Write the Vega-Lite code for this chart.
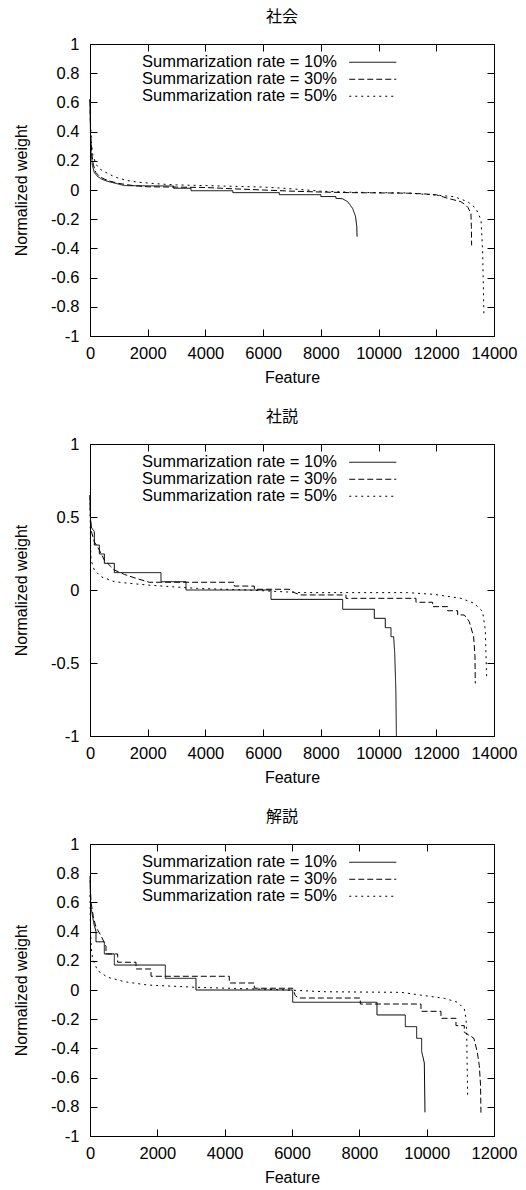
{
  "$schema": "https://vega.github.io/schema/vega-lite/v6.json",
  "background": "white",
  "padding": {"left": 13, "top": 8, "right": 5, "bottom": 0},
  "spacing": 22,
  "config": {
    "font": "Liberation Sans",
    "view": {"stroke": "black", "strokeWidth": 1},
    "axis": {"labelFont": "Liberation Sans", "labelFontSize": 16.5, "labelColor": "black", "titleFont": "Liberation Sans", "titleFontSize": 16, "titleFontWeight": "normal", "titleColor": "black", "domainColor": "black", "tickColor": "black", "grid": false, "tickSize": -7, "labelFlush": false, "labelOverlap": false},
    "title": {"font": "Noto Sans CJK JP", "fontSize": 16, "fontWeight": "normal", "color": "black", "offset": 11, "frame": "group", "anchor": "middle", "dx": -10},
    "legend": {"orient": "none", "legendX": 260, "legendY": 10, "title": null, "labelAlign": "right", "labelOffset": -44, "labelFont": "Liberation Sans", "labelFontSize": 16.5, "labelColor": "black", "symbolType": "M-5.875,0H5.875", "symbolSize": 64, "symbolStrokeColor": "black", "symbolFillColor": "transparent", "symbolStrokeWidth": 1, "symbolOpacity": 1, "rowPadding": 0, "padding": 0, "labelLimit": 400, "symbolOffset": 14.5}
  },
  "datasets": {
    "shakai": [
      {"rate":"10%","x":0,"y":0.62},{"rate":"10%","x":15,"y":0.4},{"rate":"10%","x":40,"y":0.25},{"rate":"10%","x":80,"y":0.17},{"rate":"10%","x":150,"y":0.12},{"rate":"10%","x":250,"y":0.095},{"rate":"10%","x":400,"y":0.075},{"rate":"10%","x":600,"y":0.06},{"rate":"10%","x":800,"y":0.05},{"rate":"10%","x":1000,"y":0.04},{"rate":"10%","x":1200,"y":0.03},{"rate":"10%","x":2900,"y":0.027},{"rate":"10%","x":2900,"y":0.012},{"rate":"10%","x":3500,"y":0.012},{"rate":"10%","x":3500,"y":-0.005},{"rate":"10%","x":4950,"y":-0.005},{"rate":"10%","x":4950,"y":-0.018},{"rate":"10%","x":6560,"y":-0.018},{"rate":"10%","x":6560,"y":-0.032},{"rate":"10%","x":8000,"y":-0.032},{"rate":"10%","x":8000,"y":-0.045},{"rate":"10%","x":8520,"y":-0.045},{"rate":"10%","x":8520,"y":-0.057},{"rate":"10%","x":8750,"y":-0.06},{"rate":"10%","x":8930,"y":-0.08},{"rate":"10%","x":9100,"y":-0.126},{"rate":"10%","x":9200,"y":-0.18},{"rate":"10%","x":9245,"y":-0.25},{"rate":"10%","x":9255,"y":-0.32},
      {"rate":"30%","x":0,"y":0.62},{"rate":"30%","x":20,"y":0.4},{"rate":"30%","x":60,"y":0.25},{"rate":"30%","x":120,"y":0.17},{"rate":"30%","x":200,"y":0.12},{"rate":"30%","x":350,"y":0.09},{"rate":"30%","x":500,"y":0.075},{"rate":"30%","x":700,"y":0.06},{"rate":"30%","x":1000,"y":0.045},{"rate":"30%","x":1500,"y":0.03},{"rate":"30%","x":2000,"y":0.022},{"rate":"30%","x":3000,"y":0.02},{"rate":"30%","x":4000,"y":0.017},{"rate":"30%","x":5000,"y":0.008},{"rate":"30%","x":6000,"y":0.0},{"rate":"30%","x":7000,"y":-0.008},{"rate":"30%","x":8000,"y":-0.014},{"rate":"30%","x":9000,"y":-0.018},{"rate":"30%","x":10000,"y":-0.02},{"rate":"30%","x":11000,"y":-0.022},{"rate":"30%","x":11600,"y":-0.027},{"rate":"30%","x":12000,"y":-0.033},{"rate":"30%","x":12400,"y":-0.057},{"rate":"30%","x":12850,"y":-0.08},{"rate":"30%","x":13000,"y":-0.1},{"rate":"30%","x":13100,"y":-0.12},{"rate":"30%","x":13200,"y":-0.16},{"rate":"30%","x":13215,"y":-0.25},{"rate":"30%","x":13225,"y":-0.38},
      {"rate":"50%","x":0,"y":0.62},{"rate":"50%","x":20,"y":0.45},{"rate":"50%","x":50,"y":0.32},{"rate":"50%","x":100,"y":0.24},{"rate":"50%","x":200,"y":0.18},{"rate":"50%","x":300,"y":0.15},{"rate":"50%","x":450,"y":0.13},{"rate":"50%","x":600,"y":0.115},{"rate":"50%","x":800,"y":0.095},{"rate":"50%","x":1000,"y":0.08},{"rate":"50%","x":1300,"y":0.065},{"rate":"50%","x":1600,"y":0.055},{"rate":"50%","x":2000,"y":0.048},{"rate":"50%","x":2500,"y":0.04},{"rate":"50%","x":3000,"y":0.035},{"rate":"50%","x":4000,"y":0.03},{"rate":"50%","x":5000,"y":0.025},{"rate":"50%","x":6000,"y":0.02},{"rate":"50%","x":6800,"y":0.011},{"rate":"50%","x":7500,"y":0.0},{"rate":"50%","x":8000,"y":-0.008},{"rate":"50%","x":9000,"y":-0.015},{"rate":"50%","x":10000,"y":-0.018},{"rate":"50%","x":11000,"y":-0.02},{"rate":"50%","x":11500,"y":-0.028},{"rate":"50%","x":12000,"y":-0.035},{"rate":"50%","x":12620,"y":-0.046},{"rate":"50%","x":13090,"y":-0.08},{"rate":"50%","x":13375,"y":-0.126},{"rate":"50%","x":13550,"y":-0.205},{"rate":"50%","x":13605,"y":-0.41},{"rate":"50%","x":13650,"y":-0.85}
    ],
    "shasetsu": [
      {"rate":"10%","x":0,"y":0.65},{"rate":"10%","x":15,"y":0.5},{"rate":"10%","x":40,"y":0.43},{"rate":"10%","x":150,"y":0.4},{"rate":"10%","x":150,"y":0.308},{"rate":"10%","x":323,"y":0.308},{"rate":"10%","x":323,"y":0.247},{"rate":"10%","x":497,"y":0.247},{"rate":"10%","x":497,"y":0.183},{"rate":"10%","x":843,"y":0.183},{"rate":"10%","x":843,"y":0.119},{"rate":"10%","x":2460,"y":0.119},{"rate":"10%","x":2460,"y":0.057},{"rate":"10%","x":3326,"y":0.057},{"rate":"10%","x":3326,"y":0.0},{"rate":"10%","x":6272,"y":0.0},{"rate":"10%","x":6272,"y":-0.064},{"rate":"10%","x":8755,"y":-0.064},{"rate":"10%","x":8755,"y":-0.132},{"rate":"10%","x":9852,"y":-0.132},{"rate":"10%","x":9852,"y":-0.194},{"rate":"10%","x":10233,"y":-0.194},{"rate":"10%","x":10233,"y":-0.258},{"rate":"10%","x":10430,"y":-0.258},{"rate":"10%","x":10430,"y":-0.32},{"rate":"10%","x":10522,"y":-0.32},{"rate":"10%","x":10560,"y":-0.434},{"rate":"10%","x":10600,"y":-0.7},{"rate":"10%","x":10618,"y":-1.0},
      {"rate":"30%","x":0,"y":0.65},{"rate":"30%","x":15,"y":0.5},{"rate":"30%","x":50,"y":0.4},{"rate":"30%","x":150,"y":0.33},{"rate":"30%","x":323,"y":0.274},{"rate":"30%","x":497,"y":0.205},{"rate":"30%","x":843,"y":0.137},{"rate":"30%","x":1190,"y":0.107},{"rate":"30%","x":1594,"y":0.08},{"rate":"30%","x":2056,"y":0.053},{"rate":"30%","x":5000,"y":0.053},{"rate":"30%","x":5000,"y":0.027},{"rate":"30%","x":5694,"y":0.027},{"rate":"30%","x":5694,"y":0.005},{"rate":"30%","x":6900,"y":0.005},{"rate":"30%","x":7100,"y":-0.02},{"rate":"30%","x":7300,"y":-0.034},{"rate":"30%","x":8870,"y":-0.034},{"rate":"30%","x":8870,"y":-0.057},{"rate":"30%","x":11296,"y":-0.057},{"rate":"30%","x":11296,"y":-0.084},{"rate":"30%","x":11874,"y":-0.084},{"rate":"30%","x":11874,"y":-0.114},{"rate":"30%","x":12394,"y":-0.114},{"rate":"30%","x":12394,"y":-0.142},{"rate":"30%","x":12740,"y":-0.142},{"rate":"30%","x":12740,"y":-0.171},{"rate":"30%","x":12971,"y":-0.171},{"rate":"30%","x":13144,"y":-0.217},{"rate":"30%","x":13294,"y":-0.32},{"rate":"30%","x":13340,"y":-0.45},{"rate":"30%","x":13352,"y":-0.64},
      {"rate":"50%","x":0,"y":0.6},{"rate":"50%","x":15,"y":0.35},{"rate":"50%","x":35,"y":0.205},{"rate":"50%","x":150,"y":0.137},{"rate":"50%","x":381,"y":0.091},{"rate":"50%","x":843,"y":0.057},{"rate":"50%","x":1400,"y":0.045},{"rate":"50%","x":1998,"y":0.034},{"rate":"50%","x":3000,"y":0.02},{"rate":"50%","x":3732,"y":0.011},{"rate":"50%","x":5463,"y":0.0},{"rate":"50%","x":7300,"y":-0.018},{"rate":"50%","x":11008,"y":-0.018},{"rate":"50%","x":11930,"y":-0.03},{"rate":"50%","x":12855,"y":-0.057},{"rate":"50%","x":13317,"y":-0.091},{"rate":"50%","x":13606,"y":-0.148},{"rate":"50%","x":13698,"y":-0.274},{"rate":"50%","x":13745,"y":-0.594}
    ],
    "kaisetsu": [
      {"rate":"10%","x":0,"y":0.75},{"rate":"10%","x":20,"y":0.58},{"rate":"10%","x":79,"y":0.5},{"rate":"10%","x":120,"y":0.45},{"rate":"10%","x":178,"y":0.4},{"rate":"10%","x":178,"y":0.33},{"rate":"10%","x":426,"y":0.33},{"rate":"10%","x":426,"y":0.247},{"rate":"10%","x":723,"y":0.247},{"rate":"10%","x":723,"y":0.171},{"rate":"10%","x":2238,"y":0.171},{"rate":"10%","x":2238,"y":0.08},{"rate":"10%","x":3148,"y":0.08},{"rate":"10%","x":3148,"y":0.0},{"rate":"10%","x":6020,"y":0.0},{"rate":"10%","x":6020,"y":-0.084},{"rate":"10%","x":8524,"y":-0.084},{"rate":"10%","x":8524,"y":-0.171},{"rate":"10%","x":9366,"y":-0.171},{"rate":"10%","x":9366,"y":-0.251},{"rate":"10%","x":9703,"y":-0.251},{"rate":"10%","x":9703,"y":-0.331},{"rate":"10%","x":9851,"y":-0.331},{"rate":"10%","x":9851,"y":-0.42},{"rate":"10%","x":9930,"y":-0.5},{"rate":"10%","x":9950,"y":-0.838},
      {"rate":"30%","x":0,"y":0.78},{"rate":"30%","x":30,"y":0.6},{"rate":"30%","x":100,"y":0.5},{"rate":"30%","x":178,"y":0.43},{"rate":"30%","x":327,"y":0.372},{"rate":"30%","x":475,"y":0.3},{"rate":"30%","x":475,"y":0.247},{"rate":"30%","x":822,"y":0.247},{"rate":"30%","x":822,"y":0.19},{"rate":"30%","x":1366,"y":0.19},{"rate":"30%","x":1366,"y":0.144},{"rate":"30%","x":1812,"y":0.144},{"rate":"30%","x":1812,"y":0.094},{"rate":"30%","x":4138,"y":0.094},{"rate":"30%","x":4138,"y":0.048},{"rate":"30%","x":4881,"y":0.048},{"rate":"30%","x":4881,"y":0.012},{"rate":"30%","x":6020,"y":0.012},{"rate":"30%","x":6100,"y":-0.039},{"rate":"30%","x":6200,"y":-0.055},{"rate":"30%","x":8029,"y":-0.055},{"rate":"30%","x":8029,"y":-0.096},{"rate":"30%","x":9831,"y":-0.096},{"rate":"30%","x":9831,"y":-0.146},{"rate":"30%","x":10425,"y":-0.146},{"rate":"30%","x":10425,"y":-0.194},{"rate":"30%","x":10870,"y":-0.194},{"rate":"30%","x":10870,"y":-0.244},{"rate":"30%","x":11118,"y":-0.244},{"rate":"30%","x":11118,"y":-0.29},{"rate":"30%","x":11400,"y":-0.33},{"rate":"30%","x":11500,"y":-0.42},{"rate":"30%","x":11563,"y":-0.518},{"rate":"30%","x":11600,"y":-0.65},{"rate":"30%","x":11613,"y":-0.85},
      {"rate":"50%","x":0,"y":0.65},{"rate":"50%","x":15,"y":0.4},{"rate":"50%","x":40,"y":0.28},{"rate":"50%","x":79,"y":0.212},{"rate":"50%","x":228,"y":0.132},{"rate":"50%","x":525,"y":0.087},{"rate":"50%","x":1020,"y":0.057},{"rate":"50%","x":1713,"y":0.034},{"rate":"50%","x":3198,"y":0.018},{"rate":"50%","x":5673,"y":0.002},{"rate":"50%","x":7000,"y":-0.012},{"rate":"50%","x":9237,"y":-0.016},{"rate":"50%","x":9733,"y":-0.032},{"rate":"50%","x":10523,"y":-0.057},{"rate":"50%","x":10920,"y":-0.084},{"rate":"50%","x":11118,"y":-0.13},{"rate":"50%","x":11170,"y":-0.2},{"rate":"50%","x":11188,"y":-0.29},{"rate":"50%","x":11218,"y":-0.735}
    ]
  },
  "vconcat": [
    {
      "title": {"text": "社会"},
      "width": 404, "height": 292,
      "data": {"name": "shakai"},
      "layer": [
        {"mark": {"type": "line", "color": "black", "strokeWidth": 1},
         "encoding": {
           "x": {"field": "x", "type": "quantitative", "scale": {"domain": [0, 14000], "nice": false}, "axis": {"values": [0,2000,4000,6000,8000,10000,12000,14000], "title": "Feature", "labelExpr": "'' + datum.value", "labelPadding": 16, "titlePadding": 8}},
           "y": {"field": "y", "type": "quantitative", "scale": {"domain": [-1, 1], "nice": false}, "axis": {"values": [-1,-0.8,-0.6,-0.4,-0.2,0,0.2,0.4,0.6,0.8,1], "title": "Normalized weight", "labelExpr": "'' + datum.value", "labelPadding": 18, "titlePadding": 21}},
           "strokeDash": {"field": "rate", "type": "nominal", "scale": {"domain": ["10%","30%","50%"], "range": [[1,0],[6,3],[2,4]]}, "legend": {"labelExpr": "'Summarization rate = ' + datum.label"}},
           "order": {"value": null}
         }},
        {"mark": {"type": "line", "strokeOpacity": 0},
         "encoding": {
           "x": {"field": "x", "type": "quantitative", "axis": {"orient": "top", "values": [0,2000,4000,6000,8000,10000,12000,14000], "labels": false, "title": null, "domain": false}},
           "y": {"field": "y", "type": "quantitative", "axis": {"orient": "right", "values": [-1,-0.8,-0.6,-0.4,-0.2,0,0.2,0.4,0.6,0.8,1], "labels": false, "title": null, "domain": false}}
         }}
      ],
      "resolve": {"axis": {"x": "independent", "y": "independent"}}
    },
    {
      "title": {"text": "社説"},
      "width": 404, "height": 292,
      "data": {"name": "shasetsu"},
      "layer": [
        {"mark": {"type": "line", "color": "black", "strokeWidth": 1},
         "encoding": {
           "x": {"field": "x", "type": "quantitative", "scale": {"domain": [0, 14000], "nice": false}, "axis": {"values": [0,2000,4000,6000,8000,10000,12000,14000], "title": "Feature", "labelExpr": "'' + datum.value", "labelPadding": 16, "titlePadding": 8}},
           "y": {"field": "y", "type": "quantitative", "scale": {"domain": [-1, 1], "nice": false}, "axis": {"values": [-1,-0.5,0,0.5,1], "title": "Normalized weight", "labelExpr": "'' + datum.value", "labelPadding": 18, "titlePadding": 21}},
           "strokeDash": {"field": "rate", "type": "nominal", "scale": {"domain": ["10%","30%","50%"], "range": [[1,0],[6,3],[2,4]]}, "legend": {"labelExpr": "'Summarization rate = ' + datum.label"}},
           "order": {"value": null}
         }},
        {"mark": {"type": "line", "strokeOpacity": 0},
         "encoding": {
           "x": {"field": "x", "type": "quantitative", "axis": {"orient": "top", "values": [0,2000,4000,6000,8000,10000,12000,14000], "labels": false, "title": null, "domain": false}},
           "y": {"field": "y", "type": "quantitative", "axis": {"orient": "right", "values": [-1,-0.5,0,0.5,1], "labels": false, "title": null, "domain": false}}
         }}
      ],
      "resolve": {"axis": {"x": "independent", "y": "independent"}}
    },
    {
      "title": {"text": "解説"},
      "width": 404, "height": 292,
      "data": {"name": "kaisetsu"},
      "layer": [
        {"mark": {"type": "line", "color": "black", "strokeWidth": 1},
         "encoding": {
           "x": {"field": "x", "type": "quantitative", "scale": {"domain": [0, 12000], "nice": false}, "axis": {"values": [0,2000,4000,6000,8000,10000,12000], "title": "Feature", "labelExpr": "'' + datum.value", "labelPadding": 16, "titlePadding": 8}},
           "y": {"field": "y", "type": "quantitative", "scale": {"domain": [-1, 1], "nice": false}, "axis": {"values": [-1,-0.8,-0.6,-0.4,-0.2,0,0.2,0.4,0.6,0.8,1], "title": "Normalized weight", "labelExpr": "'' + datum.value", "labelPadding": 18, "titlePadding": 21}},
           "strokeDash": {"field": "rate", "type": "nominal", "scale": {"domain": ["10%","30%","50%"], "range": [[1,0],[6,3],[2,4]]}, "legend": {"labelExpr": "'Summarization rate = ' + datum.label"}},
           "order": {"value": null}
         }},
        {"mark": {"type": "line", "strokeOpacity": 0},
         "encoding": {
           "x": {"field": "x", "type": "quantitative", "axis": {"orient": "top", "values": [0,2000,4000,6000,8000,10000,12000], "labels": false, "title": null, "domain": false}},
           "y": {"field": "y", "type": "quantitative", "axis": {"orient": "right", "values": [-1,-0.8,-0.6,-0.4,-0.2,0,0.2,0.4,0.6,0.8,1], "labels": false, "title": null, "domain": false}}
         }}
      ],
      "resolve": {"axis": {"x": "independent", "y": "independent"}}
    }
  ],
  "resolve": {"scale": {"strokeDash": "independent"}, "legend": {"strokeDash": "independent"}}
}
